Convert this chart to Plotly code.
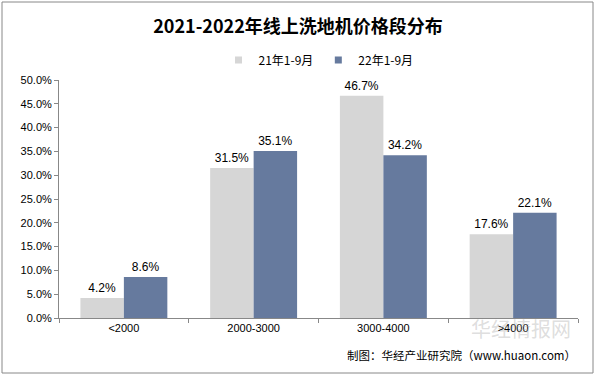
import plotly.graph_objects as go

categories = ["<2000", "2000-3000", "3000-4000", ">4000"]
series_2021 = [4.2, 31.5, 46.7, 17.6]
series_2022 = [8.6, 35.1, 34.2, 22.1]
names = ["21年1-9月", "22年1-9月"]
colors = ["#D6D6D6", "#667A9E"]

fig = go.Figure()
for vals, nm, col in zip([series_2021, series_2022], names, colors):
    fig.add_trace(go.Bar(
        x=categories, y=[v / 100 for v in vals], name=nm, showlegend=False,
        marker=dict(color=col, line=dict(width=0)),
        text=[f"{v:.1f}%" for v in vals], textposition="outside",
        textfont=dict(size=12, color="#000000", family="Liberation Sans, Arial"),
        cliponaxis=False,
    ))
for nm, col in zip(names, colors):
    fig.add_trace(go.Scatter(
        x=[None], y=[None], mode="markers", name=nm,
        marker=dict(symbol="square", size=7, color=col),
    ))

fig.update_layout(
    width=596, height=377,
    margin=dict(l=59, r=18, t=80, b=59),
    paper_bgcolor="white", plot_bgcolor="white",
    barmode="group", bargap=0.33, bargroupgap=0,
    title=dict(text="<b>2021-2022年线上洗地机价格段分布</b>", x=0.5, xanchor="center",
               y=1 - 27 / 377, yref="container", yanchor="middle",
               font=dict(size=18, color="#000000", family="Noto Sans CJK SC")),
    legend=dict(orientation="h", x=0.5, xanchor="center", y=1 + 20 / 238, yanchor="middle",
                font=dict(size=12, color="#000000", family="Noto Sans CJK SC"),
                itemwidth=30, traceorder="normal", tracegroupgap=0),
    showlegend=True,
    xaxis=dict(showline=True, linecolor="#888888", linewidth=1, ticks="outside",
               tickson="boundaries", ticklen=4, tickcolor="#888888",
               tickfont=dict(size=11, color="#000000", family="Liberation Sans, Arial"),
               showgrid=False),
    yaxis=dict(range=[0, 0.5], dtick=0.05, tickformat=".1%", showline=True,
               linecolor="#888888", linewidth=1, ticks="outside", ticklen=4,
               tickcolor="#888888", showgrid=False, zeroline=False,
               tickfont=dict(size=11, color="#000000", family="Liberation Sans, Arial")),
    shapes=[dict(type="rect", xref="paper", yref="paper", x0=-57/519, x1=1+15/519,
                 y0=-55/238, y1=1+78/238, line=dict(color="#888888", width=1))],
    annotations=[
        dict(text="华经情报网", xref="paper", yref="paper", x=0.99, y=-0.045,
             xanchor="right", yanchor="middle", showarrow=False,
             font=dict(size=20, color="rgba(170,170,170,0.4)", family="Noto Sans CJK SC")),
        dict(text="制图：华经产业研究院（www.huaon.com）", xref="paper", yref="paper",
             x=1.0, y=-0.155, xanchor="right", yanchor="middle", showarrow=False,
             font=dict(size=11.5, color="#000000", family="Noto Sans CJK SC")),
    ],
)

fig.write_html("out.html", config={"displayModeBar": False},
               post_script="document.body.style.margin='0';")
